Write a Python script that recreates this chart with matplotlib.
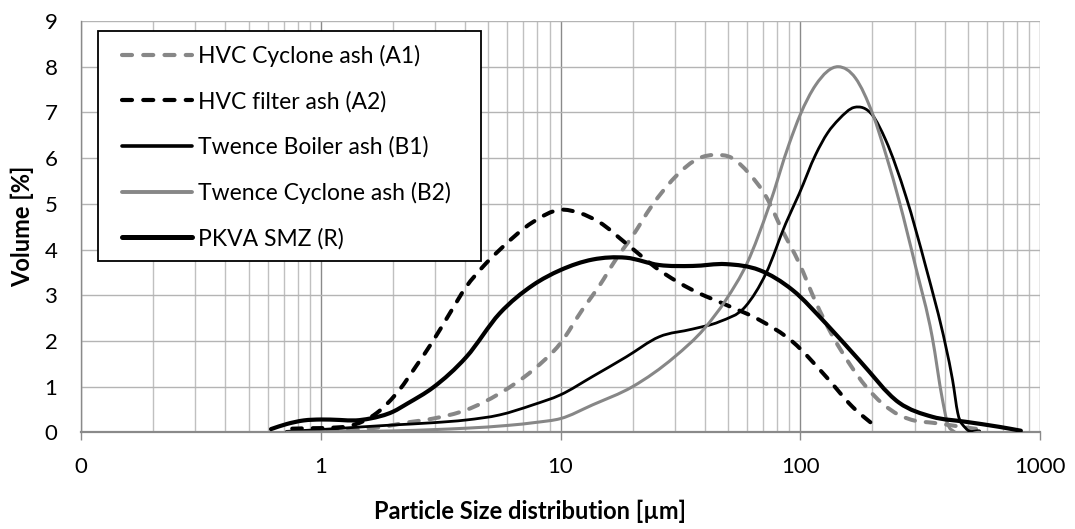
import numpy as np
import matplotlib
matplotlib.use("Agg")
import matplotlib.pyplot as plt
from matplotlib.path import Path
from matplotlib.patches import PathPatch, Rectangle
from matplotlib.lines import Line2D
from matplotlib.ticker import FixedLocator, FixedFormatter, LogLocator, NullFormatter

plt.rcParams['font.family'] = ['Lato', 'DejaVu Sans']

# particle size [um] and volume [%]
a1_x = [0.72, 1.0, 1.4, 1.82, 2.2, 2.94, 4.05, 5.57, 7.67, 10, 12.4, 14.5, 17.1, 20, 24, 30,
        37.9, 43.9, 52, 61, 72, 84, 99, 116, 136, 160, 188, 220, 258, 303, 355, 417, 500, 570]
a1_y = [0.0, 0.02, 0.06, 0.12, 0.2, 0.3, 0.49, 0.85, 1.36, 1.95, 2.7, 3.2, 3.8, 4.3, 4.95, 5.58,
        6.0, 6.07, 6.0, 5.67, 5.16, 4.43, 3.7, 2.85, 2.12, 1.51, 1.0, 0.63, 0.38, 0.25, 0.21, 0.16, 0.1, 0.06]

a2_x = [0.76, 0.9, 1.1, 1.32, 1.5, 1.71, 2.13, 2.5, 2.94, 3.45, 4.05, 4.74, 5.57, 7.67, 10, 12,
        14.5, 18.8, 25.8, 35.6, 49, 67.5, 93, 128, 165, 210]
a2_y = [0.08, 0.09, 0.1, 0.14, 0.24, 0.42, 0.93, 1.45, 2.0, 2.6, 3.19, 3.62, 3.99, 4.6, 4.87, 4.8,
        4.6, 4.13, 3.55, 3.11, 2.79, 2.46, 1.98, 1.22, 0.56, 0.09]

b1_x = [0.72, 1.0, 1.5, 2.0, 2.94, 4.05, 5.57, 7.67, 10, 13.6, 18.8, 25.8, 35.6, 46, 59, 72, 87,
        99, 116, 130, 145, 168, 200, 227, 276, 334, 405, 432, 454, 490, 560]
b1_y = [0.02, 0.06, 0.12, 0.16, 0.21, 0.27, 0.38, 0.6, 0.82, 1.22, 1.65, 2.09, 2.26, 2.42, 2.75, 3.48, 4.57,
        5.22, 6.08, 6.55, 6.85, 7.11, 6.94, 6.4, 5.16, 3.62, 1.87, 1.14, 0.42, 0.09, 0.03]

b2_x = [0.72, 1.0, 1.5, 2.0, 3.0, 4.05, 6, 8, 10, 13.6, 20, 29.9, 39.8, 49, 60, 74, 90, 100,
        116, 144, 170, 200, 230, 258, 303, 355, 392, 411, 440, 560]
b2_y = [0.0, 0.01, 0.02, 0.03, 0.06, 0.09, 0.15, 0.22, 0.3, 0.6, 1.0, 1.65, 2.27, 2.9, 3.7, 4.94, 6.32, 6.95,
        7.6, 8.0, 7.75, 6.98, 6.0, 5.08, 3.62, 2.09, 0.71, 0.2, 0.01, 0.0]

r_x = [0.62, 0.72, 0.85, 1.0, 1.2, 1.4, 1.6, 2.0, 2.3, 2.94, 4.05, 5.57, 7.67, 10, 13.6, 18.8, 25.8,
       35.6, 49, 67.5, 93, 128, 176, 258, 355, 490, 675, 832]
r_y = [0.07, 0.18, 0.26, 0.28, 0.27, 0.26, 0.3, 0.45, 0.63, 0.98, 1.65, 2.6, 3.22, 3.55, 3.78, 3.82, 3.66,
       3.64, 3.68, 3.55, 3.11, 2.38, 1.58, 0.65, 0.34, 0.23, 0.12, 0.035]

labels = ["HVC Cyclone ash (A1)", "HVC filter ash (A2)", "Twence Boiler ash (B1)",
          "Twence Cyclone ash (B2)", "PKVA SMZ (R)"]

GRAY = '#878787'
styles = [
    dict(color=GRAY, lw=2.9, dashed=True),
    dict(color='black', lw=2.9, dashed=True),
    dict(color='black', lw=2.0, dashed=False),
    dict(color=GRAY, lw=2.2, dashed=False),
    dict(color='black', lw=3.0, dashed=False),
]


def smooth_path(x, y):
    # smoothed line like Excel: cubic Bezier pieces through the points, in log-x space
    t = np.log10(x)
    y = np.asarray(y, float)
    h = np.diff(t)
    d = np.diff(y) / h
    m = np.empty_like(y)
    m[0], m[-1] = d[0], d[-1]
    m[1:-1] = (h[:-1] * d[1:] + h[1:] * d[:-1]) / (h[:-1] + h[1:])
    verts = [(t[0], y[0])]
    codes = [Path.MOVETO]
    for i in range(len(t) - 1):
        verts += [(t[i] + h[i] / 3, y[i] + m[i] * h[i] / 3),
                  (t[i + 1] - h[i] / 3, y[i + 1] - m[i + 1] * h[i] / 3),
                  (t[i + 1], y[i + 1])]
        codes += [Path.CURVE4] * 3
    verts = np.array(verts)
    verts[:, 0] = 10 ** verts[:, 0]
    return Path(verts, codes)


fig = plt.figure(figsize=(10.75, 5.29), dpi=100)
ax = fig.add_axes([81 / 1075, 1 - 432.3 / 529, 959 / 1075, 411.3 / 529])
ax.set_xscale('log')
ax.set_xlim(0.1, 1000)
ax.set_ylim(0, 9)

series = [(a1_x, a1_y), (a2_x, a2_y), (b1_x, b1_y), (b2_x, b2_y), (r_x, r_y)]
handles = []
for (sx, sy), st, lab in zip(series, styles, labels):
    ls = (0, (2.4, 2.7)) if st['dashed'] else '-'
    patch = PathPatch(smooth_path(sx, sy), fill=False, edgecolor=st['color'], lw=st['lw'],
                      linestyle=ls, capstyle='round', joinstyle='round', zorder=3)
    ax.add_patch(patch)
    handles.append(Line2D([], [], color=st['color'], lw=3.0 if st['dashed'] else st['lw'] + 0.6,
                          linestyle=ls, dash_capstyle='round', solid_capstyle='round'))

# grid
ax.xaxis.set_major_locator(FixedLocator([0.1, 1, 10, 100, 1000]))
ax.xaxis.set_major_formatter(FixedFormatter(["0", "1", "10", "100", "1000"]))
ax.xaxis.set_minor_locator(LogLocator(base=10, subs=np.arange(2, 10)))
ax.xaxis.set_minor_formatter(NullFormatter())
ax.set_yticks(range(0, 10))
ax.grid(True, which='major', axis='x', color='#8a8a8a', lw=1.0)
ax.grid(True, which='minor', axis='x', color='#c0c0c0', lw=1.0)
ax.grid(True, which='major', axis='y', color='#b4b4b4', lw=1.0)
ax.set_axisbelow(True)

for s in ['top', 'right']:
    ax.spines[s].set_visible(False)
ax.spines['left'].set_color('#8a8a8a')
ax.spines['left'].set_linewidth(1.0)
ax.spines['bottom'].set_color('#8a8a8a')
ax.spines['bottom'].set_linewidth(1.6)
ax.spines['bottom'].set_zorder(2.5)

ax.tick_params(axis='x', which='major', direction='out', length=6, width=1.0, color='#8a8a8a',
               pad=12, labelsize=16)
ax.tick_params(axis='x', which='minor', length=0)
ax.tick_params(axis='y', length=0, pad=17, labelsize=16)

ax.set_xlabel("Particle Size distribution [µm]", fontsize=17, fontweight='bold')
ax.xaxis.set_label_coords((530 - 81) / 959, (432.3 - 500) / 411.3)
ax.set_ylabel("Volume [%]", fontsize=17, fontweight='bold')
ax.yaxis.set_label_coords((34 - 81) / 959, 0.5)

# legend frame drawn as a box, legend entries inside it
frame = Rectangle(((98 - 81) / 959, (432.3 - 261) / 411.3), 383 / 959, 230 / 411.3,
                  transform=ax.transAxes, facecolor='white', edgecolor='black', lw=1.3, zorder=4)
ax.add_patch(frame)
leg = ax.legend(handles, labels, loc='upper left', bbox_to_anchor=((122 - 81) / 959, (432.3 - 44.5) / 411.3),
                borderaxespad=0, borderpad=0, fontsize=16.5, handlelength=3.05, handletextpad=0.26,
                labelspacing=1.05, frameon=False)
leg.set_zorder(5)

fig.savefig('out.png', dpi=100)
